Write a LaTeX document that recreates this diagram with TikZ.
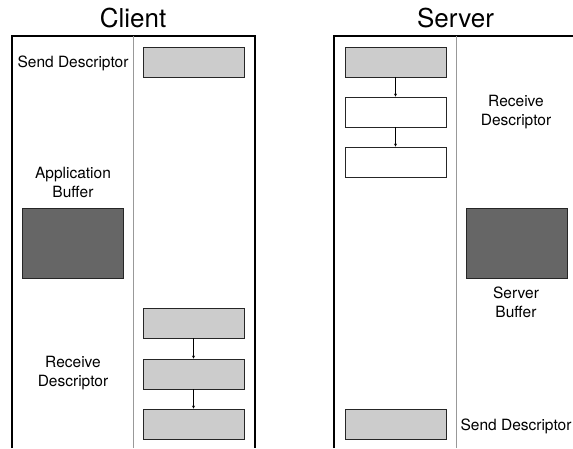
\documentclass[tikz,border=0pt]{standalone}
\usepackage{fontspec}
\setmainfont{TeX Gyre Heros}
\usetikzlibrary{arrows.meta}
\definecolor{lightbox}{HTML}{CCCCCC}
\definecolor{darkbox}{HTML}{666666}
\definecolor{divider}{HTML}{999999}
\begin{document}
\begin{tikzpicture}[x=1pt,y=-1pt,
  lbl/.style={font=\fontsize{15.5}{19}\selectfont, align=center, inner sep=0pt},
  ttl/.style={font=\fontsize{26}{30}\selectfont, inner sep=0pt, anchor=base},
  boxbase/.style={draw=black!85, line width=0.9pt, minimum width=101pt, minimum height=30pt, inner sep=0pt},
  desc/.style={boxbase, fill=lightbox},
  emptydesc/.style={boxbase, fill=white},
  buf/.style={boxbase, fill=darkbox, minimum height=70pt},
  frame/.style={line width=2pt, black},
  div/.style={line width=0.9pt, divider},
  link/.style={line width=0.6pt, -{Stealth[length=3pt,width=3pt]}}
]
\useasboundingbox (0,0) rectangle (573,448);

% titles
\node[ttl] (tclient) at (133,27) {Client};
\node[ttl] (tserver) at (455.5,27) {Server};

% frames
\draw[frame] (12,448) -- (12,36) -- (255,36) -- (255,448);
\draw[frame] (334,448) -- (334,36) -- (573,36);
\draw[div] (133,36) -- (133,448);
\draw[div] (456,36) -- (456,448);

% client
\node[lbl, anchor=base] (csendl) at (73,67.5) {Send Descriptor};
\node[desc] (csend) at (193.5,62) {};
\node[lbl] (cappl) at (73,182.5) {Application\\Buffer};
\node[buf] (cbuf) at (72.5,243) {};
\node[lbl] (crecvl) at (73,373.5) {Receive\\Descriptor};
\node[desc] (cr1) at (193.5,323) {};
\node[desc] (cr2) at (193.5,374) {};
\node[desc] (cr3) at (193.5,424) {};
\draw[link] (cr1) -- (cr2);
\draw[link] (cr2) -- (cr3);

% server
\node[desc] (sr1) at (395.5,62) {};
\node[emptydesc] (sr2) at (395.5,112) {};
\node[emptydesc] (sr3) at (395.5,162) {};
\draw[link] (sr1) -- (sr2);
\draw[link] (sr2) -- (sr3);
\node[lbl] (srecvl) at (516,112) {Receive\\Descriptor};
\node[buf] (sbuf) at (516.5,243) {};
\node[lbl] (sbufl) at (516,302.5) {Server\\Buffer};
\node[desc] (ssend) at (395.5,424) {};
\node[lbl, anchor=base] (ssendl) at (516,430.5) {Send Descriptor};
\end{tikzpicture}
\end{document}
